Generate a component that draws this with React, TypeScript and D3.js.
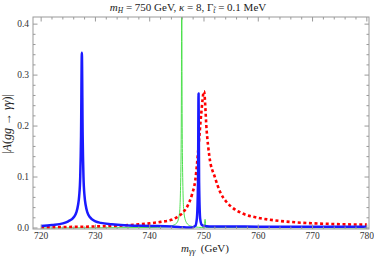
import * as d3 from 'd3';

// readings from the reference, GeV vs |A|
const blueX = [720, 722, 724, 725, 726, 726.5, 726.8, 727.0, 727.2, 727.35, 727.5, 727.65, 727.8, 728.0, 728.2, 728.5, 729, 730, 731, 733, 736, 740, 744, 746, 747, 747.8, 748.4, 748.7, 748.9, 749.0, 749.1, 749.3, 749.6, 750, 752, 755, 760, 770, 780];
const blueY = [0.004, 0.006, 0.009, 0.013, 0.021, 0.031, 0.045, 0.062, 0.1, 0.18, 0.344, 0.18, 0.1, 0.062, 0.045, 0.031, 0.021, 0.013, 0.01, 0.0075, 0.005, 0.004, 0.003, 0.0015, 0.0008, 0.001, 0.004, 0.02, 0.09, 0.264, 0.09, 0.018, 0.006, 0.004, 0.003, 0.003, 0.0025, 0.0025, 0.0025];

const redX = [720, 725, 730, 735, 738, 740, 742, 744, 745, 746, 747, 747.8, 748.4, 749.0, 749.5, 750.0, 750.5, 751, 752, 753, 754, 755, 757, 760, 763, 767, 773, 780];
const redY = [0.0015, 0.002, 0.003, 0.005, 0.007, 0.009, 0.012, 0.016, 0.021, 0.029, 0.044, 0.066, 0.094, 0.16, 0.225, 0.268, 0.19, 0.14, 0.1, 0.07, 0.053, 0.042, 0.029, 0.02, 0.015, 0.011, 0.008, 0.0065];

const greenX = [720, 740, 743, 744, 745, 745.5, 745.75, 745.85, 745.9, 745.95, 746.05, 746.3, 746.8, 747.5, 748.5, 749.5, 750.05, 750.2, 750.35, 751, 780];
const greenY = [0.0, 0.001, 0.002, 0.004, 0.01, 0.03, 0.12, 0.3, 1.0, 0.3, 0.12, 0.03, 0.01, 0.004, 0.002, 0.001, 0.001, 0.017, 0.001, 0.001, 0.0];

const xMajor = [720, 730, 740, 750, 760, 770, 780];
const yMajor = [0, 0.1, 0.2, 0.3, 0.4];

const W = 374;
const H = 259;
const frame = { left: 33, right: 369, top: 17, bottom: 229 };
const serif = '"Liberation Serif", "DejaVu Serif", serif';

export default function App() {
  const x = d3.scaleLinear().domain([718.5, 780.4]).range([frame.left, frame.right]);
  const y = d3.scaleLinear().domain([-0.002, 0.414]).range([frame.bottom, frame.top]);

  const line = d3.line<[number, number]>()
    .x(d => x(d[0]))
    .y(d => y(d[1]))
    .curve(d3.curveMonotoneX);

  const pairs = (xs: number[], ys: number[]) => xs.map((v, i) => [v, ys[i]] as [number, number]);

  const xMinor = d3.range(720, 780.1, 2).filter(v => v % 10 !== 0);
  const yMinor = d3.range(0, 0.41, 0.02).filter(v => Math.abs(v * 10 - Math.round(v * 10)) > 1e-6);

  const frameColor = '#9a9a9a';

  return (
    <div style={{ position: 'fixed', left: 0, top: 0 }}>
      <svg width={W} height={H} style={{ display: 'block', background: '#fff' }}>
        <defs>
          <clipPath id="plotclip">
            <rect x={frame.left} y={frame.top} width={frame.right - frame.left} height={frame.bottom - frame.top} />
          </clipPath>
        </defs>

        {/* curves */}
        <g clipPath="url(#plotclip)">
          <path d={line(pairs(greenX, greenY)) || ''} fill="none" stroke="#4ee04e" strokeWidth={1} />
          <path d={line(pairs(redX, redY)) || ''} fill="none" stroke="#ff0000" strokeWidth={2.6} strokeDasharray="3,2.6" />
          <path d={line(pairs(blueX, blueY)) || ''} fill="none" stroke="#1a1aff" strokeWidth={2.5} strokeLinejoin="round" />
        </g>

        {/* frame */}
        <rect x={frame.left} y={frame.top} width={frame.right - frame.left} height={frame.bottom - frame.top}
          fill="none" stroke={frameColor} strokeWidth={1} />

        {/* x ticks */}
        {xMajor.map(v => (
          <g key={'xm' + v}>
            <line x1={x(v)} x2={x(v)} y1={frame.bottom} y2={frame.bottom - 4.5} stroke={frameColor} />
            <line x1={x(v)} x2={x(v)} y1={frame.top} y2={frame.top + 4.5} stroke={frameColor} />
            <text x={x(v)} y={239} textAnchor="middle" fontFamily={serif} fontSize={9.5} fill="#333">{v}</text>
          </g>
        ))}
        {xMinor.map(v => (
          <g key={'xn' + v}>
            <line x1={x(v)} x2={x(v)} y1={frame.bottom} y2={frame.bottom - 2.5} stroke={frameColor} />
            <line x1={x(v)} x2={x(v)} y1={frame.top} y2={frame.top + 2.5} stroke={frameColor} />
          </g>
        ))}

        {/* y ticks */}
        {yMajor.map(v => (
          <g key={'ym' + v}>
            <line x1={frame.left} x2={frame.left + 4.5} y1={y(v)} y2={y(v)} stroke={frameColor} />
            <line x1={frame.right} x2={frame.right - 4.5} y1={y(v)} y2={y(v)} stroke={frameColor} />
            <text x={29} y={y(v) + 3} textAnchor="end" fontFamily={serif} fontSize={9.5} fill="#333">{v.toFixed(1)}</text>
          </g>
        ))}
        {yMinor.map(v => (
          <g key={'yn' + v}>
            <line x1={frame.left} x2={frame.left + 2.5} y1={y(v)} y2={y(v)} stroke={frameColor} />
            <line x1={frame.right} x2={frame.right - 2.5} y1={y(v)} y2={y(v)} stroke={frameColor} />
          </g>
        ))}

        {/* title */}
        <text x={188} y={11} textAnchor="middle" fontFamily={serif} fontSize={11} fill="#222">
          <tspan fontStyle="italic">m</tspan>
          <tspan fontStyle="italic" fontSize={7.5} dy={2}>H</tspan>
          <tspan dy={-2}> = 750 GeV, </tspan>
          <tspan fontStyle="italic">κ</tspan>
          <tspan> = 8, Γ</tspan>
          <tspan fontStyle="italic" fontSize={7.5} dy={2}>t̃</tspan>
          <tspan dy={-2}> = 0.1 MeV</tspan>
        </text>

        {/* x label */}
        <text x={205} y={252} textAnchor="middle" fontFamily={serif} fontSize={11} fill="#222">
          <tspan fontStyle="italic">m</tspan>
          <tspan fontStyle="italic" fontSize={8} dy={2}>γγ</tspan>
          <tspan dy={-2}>{'\u00a0\u00a0'}(GeV)</tspan>
        </text>

        {/* y label */}
        <text transform={`translate(11,${124}) rotate(-90)`} textAnchor="middle" fontFamily={serif} fontSize={12} fill="#222">
          <tspan>|</tspan>
          <tspan fontStyle="italic">A</tspan>
          <tspan>(</tspan>
          <tspan fontStyle="italic">gg</tspan>
          <tspan> → </tspan>
          <tspan fontStyle="italic">γγ</tspan>
          <tspan>)|</tspan>
        </text>
      </svg>
    </div>
  );
}
